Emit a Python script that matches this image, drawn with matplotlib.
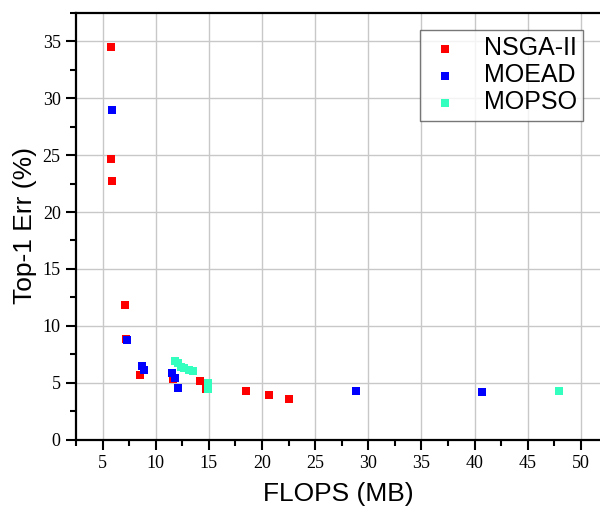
import matplotlib
matplotlib.use("Agg")
import matplotlib.pyplot as plt
from matplotlib.ticker import MultipleLocator

# Data
nsga_x = [5.8, 5.8, 5.9, 7.1, 7.2, 8.5, 11.6, 14.2, 14.7, 18.5, 20.7, 22.5]
nsga_y = [34.5, 24.7, 22.7, 11.8, 8.85, 5.7, 5.35, 5.15, 4.45, 4.3, 3.95, 3.55]

moead_x = [5.9, 7.3, 8.7, 8.9, 11.55, 11.85, 12.05, 28.8, 40.7]
moead_y = [28.95, 8.75, 6.5, 6.1, 5.85, 5.4, 4.5, 4.3, 4.15]

mopso_x = [11.85, 12.1, 12.35, 12.7, 13.1, 13.55, 14.9, 14.9, 47.9]
mopso_y = [6.9, 6.75, 6.35, 6.25, 6.15, 6.05, 4.95, 4.45, 4.25]

labels = ["NSGA-II", "MOEAD", "MOPSO"]
colors = ["#FF0000", "#0000FF", "#33FFBF"]

xticks = [5, 10, 15, 20, 25, 30, 35, 40, 45, 50]

fig = plt.figure(figsize=(6.0, 5.08), dpi=100)
ax = fig.add_axes([76/600, (508-439.5)/508, 1 - 76/600, (439.5-12.5)/508])

for xs, ys, lab, c in zip([nsga_x, moead_x, mopso_x], [nsga_y, moead_y, mopso_y], labels, colors):
    ax.scatter(xs, ys, marker="s", s=38, color=c, label=lab, linewidths=0, zorder=3)

ax.set_xlim(2.5, 51.8)
ax.set_ylim(0, 37.55)
ax.yaxis.set_major_locator(MultipleLocator(5))
ax.yaxis.set_minor_locator(MultipleLocator(2.5))
ax.set_xticks(xticks)
ax.set_xticklabels([str(v) for v in xticks])
ax.set_xticks([2.5, 7.5, 12.5, 17.5, 22.5, 27.5, 32.5, 37.5, 42.5, 47.5], minor=True)
ax.grid(True, which="major", color="#c8c8c8", linewidth=1.0, zorder=0)
ax.set_axisbelow(True)

for s in ["left", "bottom", "top"]:
    ax.spines[s].set_linewidth(1.6)
    ax.spines[s].set_color("black")
ax.spines["right"].set_visible(False)

ax.tick_params(axis="both", which="major", direction="out", length=7, width=1.5,
               labelsize=13, pad=4)
ax.tick_params(axis="both", which="minor", direction="out", length=4, width=1.5)
for t in ax.get_xticklabels() + ax.get_yticklabels():
    t.set_fontfamily("Liberation Serif")

ax.set_xlabel("FLOPS (MB)", fontfamily="Liberation Sans", fontsize=19, labelpad=7)
ax.set_ylabel("Top-1 Err (%)", fontfamily="Liberation Sans", fontsize=19, labelpad=4)

leg = ax.legend(loc="upper right",
                prop={"family": "Liberation Sans", "size": 18},
                frameon=True, fancybox=False, edgecolor="#555555",
                markerscale=1.0, handletextpad=0.8, borderpad=0.25,
                labelspacing=0.12, handlelength=1.5, borderaxespad=0)
leg.set_bbox_to_anchor((583/600, 1 - 30/508), transform=fig.transFigure)
leg.get_frame().set_linewidth(1.0)

fig.savefig("out.png", dpi=100)
